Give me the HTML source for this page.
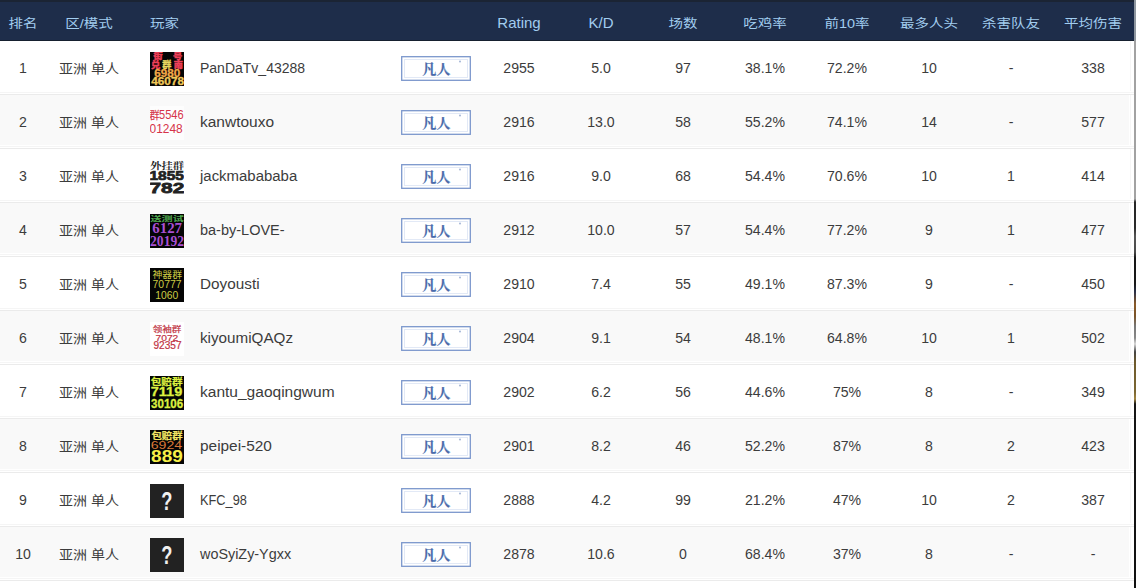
<!DOCTYPE html><html><head><meta charset="utf-8"><title>Ranking</title><style>*{margin:0;padding:0;box-sizing:border-box}
html,body{width:1136px;height:588px;overflow:hidden;background:#fff}
body{font-family:"Liberation Sans","Noto Sans CJK SC",sans-serif;font-size:14px;color:#3c3c3c}
#wrap{position:relative;width:1136px;height:588px}
.hd{position:absolute;left:0;top:0;width:1134px;height:41px;background:#1e2d4a;border-top:2px solid #1b2434;border-bottom:1px solid #16202f}
.h{position:absolute;top:1px;line-height:41px;color:#a2cdf0;font-size:14.5px;white-space:nowrap;transform:translateY(0.8px) scaleY(0.83)}
.h.lat{font-size:15px;top:0;transform:none}
.h.c1{left:0;width:46px;text-align:center}
.h.c2{left:44px;width:90px;text-align:center}
.h.c3{left:150px}
.h.n{width:82px;text-align:center}
.row{position:absolute;left:0;width:1134px;height:54px;border-bottom:1px solid #ebebeb}
.row.odd{background:#fff}
.row.even{background:linear-gradient(to right,#f9f9f9 1129px,#fff 1129px)}
.row::after{content:'';position:absolute;left:0;width:1134px;top:50px;height:3px;background:linear-gradient(#fff 0,#fff 1px,#f5f5f5 1px,#f5f5f5 2px,#fff 2px)}
.row::before{content:'';position:absolute;left:1130px;width:1px;top:0;height:53px;background:#f6f6f6}
.t{position:absolute;top:1px;line-height:53px;white-space:nowrap}
.t.c1{left:0;width:46px;text-align:center;font-size:15px;transform:scaleX(0.94);top:0}
.t.c2{left:44px;width:90px;text-align:center;transform:scaleY(0.92)}
.t.nm{left:200px;transform-origin:0 0}
.t.n{width:82px;text-align:center;font-size:15px;transform:scaleX(0.94);top:0}
.av{position:absolute;left:150px;top:11px;width:34px;height:34px;display:block}
.badge{position:absolute;left:401px;top:15px;width:70px;height:25px;display:block}
.strip{position:absolute;left:1134px;top:0;width:2px;height:588px;background:linear-gradient(#8e969f 0,#8e969f 40px,#a2a2a2 41px,#a2a2a2 199px,#262626 202px,#2a2a2a 228px,#555 236px,#4a4a4a 252px,#161616 258px,#181818 284px,#2a3048 292px,#8a5a28 304px,#7a5428 316px,#777 326px,#888 338px,#d8d8d8 344px,#444 352px,#6e5a2c 362px,#7a6632 392px,#a08440 399px,#151515 404px,#111 588px)}
</style></head><body><div id="wrap">
<div class="hd"><span class="h c1">排名</span><span class="h c2">区/模式</span><span class="h c3">玩家</span>
<span class="h n lat" style="left:478px">Rating</span>
<span class="h n lat" style="left:560px">K/D</span>
<span class="h n" style="left:642px">场数</span>
<span class="h n" style="left:724px">吃鸡率</span>
<span class="h n" style="left:806px">前10率</span>
<span class="h n" style="left:888px">最多人头</span>
<span class="h n" style="left:970px">杀害队友</span>
<span class="h n" style="left:1052px">平均伤害</span>
</div>
<div class="row odd" style="top:41px">
<span class="t c1">1</span><span class="t c2">亚洲 单人</span>
<svg class="av" width="34" height="34" viewBox="0 0 34 34"><rect width="34" height="34" fill="#050505"/><text x="3.46" y="7.18" font-size="7.98" fill="#f0405a" font-weight="bold" font-family="&quot;Liberation Sans&quot;,&quot;Noto Sans CJK SC&quot;,sans-serif" textLength="9.01" lengthAdjust="spacingAndGlyphs" stroke="#f0405a" stroke-width="0.45">街</text><text x="23.09" y="7.15" font-size="8.29" fill="#f0405a" font-weight="bold" font-family="&quot;Liberation Sans&quot;,&quot;Noto Sans CJK SC&quot;,sans-serif" textLength="9.21" lengthAdjust="spacingAndGlyphs" stroke="#f0405a" stroke-width="0.45">号</text><text x="1.04" y="15.94" font-size="9.1" fill="#f0405a" font-weight="bold" font-family="&quot;Liberation Sans&quot;,&quot;Noto Sans CJK SC&quot;,sans-serif" textLength="9.29" lengthAdjust="spacingAndGlyphs" stroke="#f0405a" stroke-width="0.45">兑</text><text x="12.32" y="16.01" font-size="8.72" fill="#e8d860" font-weight="bold" font-family="&quot;Liberation Sans&quot;,&quot;Noto Sans CJK SC&quot;,sans-serif" textLength="9.05" lengthAdjust="spacingAndGlyphs" stroke="#e8d860" stroke-width="0.35">群</text><text x="23.79" y="15.97" font-size="9.2" fill="#f0405a" font-weight="bold" font-family="&quot;Liberation Sans&quot;,&quot;Noto Sans CJK SC&quot;,sans-serif" textLength="9.21" lengthAdjust="spacingAndGlyphs" stroke="#f0405a" stroke-width="0.45">南</text><text x="4.29" y="25.3" font-size="10.14" fill="#f2a848" font-weight="bold" font-family="&quot;Liberation Sans&quot;,sans-serif" textLength="25.87" lengthAdjust="spacingAndGlyphs" stroke="#f2a848" stroke-width="0.3">6980</text><text x="1.32" y="33.1" font-size="10.0" fill="#f0c858" font-weight="bold" font-family="&quot;Liberation Sans&quot;,sans-serif" textLength="32.64" lengthAdjust="spacingAndGlyphs" stroke="#f0c858" stroke-width="0.3">46078</text></svg>
<span class="t nm" style="transform:scaleX(1.0)">PanDaTv_43288</span>
<svg class="badge" width="70" height="25" viewBox="0 0 70 25"><rect x="0.7" y="0.7" width="68.6" height="23.6" fill="#fff" stroke="#7b97cc" stroke-width="1.3"/><rect x="3.5" y="3.5" width="63" height="18" fill="none" stroke="#e2e9f6" stroke-width="1"/><circle cx="59" cy="5.5" r="0.9" fill="#9aaed2"/><text x="21.38" y="18.45" font-size="13.91" fill="#4a6cab" font-weight="bold" font-family="&quot;Liberation Serif&quot;,&quot;Noto Serif CJK SC&quot;,serif" textLength="28.28" lengthAdjust="spacingAndGlyphs" stroke="#4a6cab" stroke-width="0.15">凡人</text></svg>
<span class="t n" style="left:478px">2955</span>
<span class="t n" style="left:560px">5.0</span>
<span class="t n" style="left:642px">97</span>
<span class="t n" style="left:724px">38.1%</span>
<span class="t n" style="left:806px">72.2%</span>
<span class="t n" style="left:888px">10</span>
<span class="t n" style="left:970px">-</span>
<span class="t n" style="left:1052px">338</span>
</div>
<div class="row even" style="top:95px">
<span class="t c1">2</span><span class="t c2">亚洲 单人</span>
<svg class="av" width="34" height="34" viewBox="0 0 34 34"><rect width="34" height="34" fill="#fdfdfd"/><text x="-0.5" y="12.97" font-size="10.33" fill="#d6344a" font-weight="normal" font-family="&quot;Liberation Sans&quot;,&quot;Noto Sans CJK SC&quot;,sans-serif" textLength="10.16" lengthAdjust="spacingAndGlyphs" stroke="#d6344a" stroke-width="0.15">群</text><text x="9.06" y="13.38" font-size="12.25" fill="#d6344a" font-weight="normal" font-family="&quot;Liberation Sans&quot;,sans-serif" textLength="24.64" lengthAdjust="spacingAndGlyphs">5546</text><text x="-0.48" y="26.67" font-size="12.96" fill="#d6344a" font-weight="normal" font-family="&quot;Liberation Sans&quot;,sans-serif" textLength="33.16" lengthAdjust="spacingAndGlyphs">01248</text></svg>
<span class="t nm" style="transform:scaleX(1.106)">kanwtouxo</span>
<svg class="badge" width="70" height="25" viewBox="0 0 70 25"><rect x="0.7" y="0.7" width="68.6" height="23.6" fill="#fff" stroke="#7b97cc" stroke-width="1.3"/><rect x="3.5" y="3.5" width="63" height="18" fill="none" stroke="#e2e9f6" stroke-width="1"/><circle cx="59" cy="5.5" r="0.9" fill="#9aaed2"/><text x="21.38" y="18.45" font-size="13.91" fill="#4a6cab" font-weight="bold" font-family="&quot;Liberation Serif&quot;,&quot;Noto Serif CJK SC&quot;,serif" textLength="28.28" lengthAdjust="spacingAndGlyphs" stroke="#4a6cab" stroke-width="0.15">凡人</text></svg>
<span class="t n" style="left:478px">2916</span>
<span class="t n" style="left:560px">13.0</span>
<span class="t n" style="left:642px">58</span>
<span class="t n" style="left:724px">55.2%</span>
<span class="t n" style="left:806px">74.1%</span>
<span class="t n" style="left:888px">14</span>
<span class="t n" style="left:970px">-</span>
<span class="t n" style="left:1052px">577</span>
</div>
<div class="row odd" style="top:149px">
<span class="t c1">3</span><span class="t c2">亚洲 单人</span>
<svg class="av" width="34" height="34" viewBox="0 0 34 34"><rect width="34" height="34" fill="#fff"/><text x="0.26" y="8.74" font-size="9.1" fill="#2a2a2a" font-weight="bold" font-family="&quot;Liberation Serif&quot;,&quot;Noto Serif CJK SC&quot;,serif" textLength="33.87" lengthAdjust="spacingAndGlyphs">外挂群</text><text x="-0.61" y="20.17" font-size="13.1" fill="#222" font-weight="bold" font-family="&quot;Liberation Sans&quot;,sans-serif" textLength="34.57" lengthAdjust="spacingAndGlyphs" stroke="#222" stroke-width="0.7">1855</text><text x="-0.54" y="32.95" font-size="15.49" fill="#222" font-weight="bold" font-family="&quot;Liberation Sans&quot;,sans-serif" textLength="34.84" lengthAdjust="spacingAndGlyphs" stroke="#222" stroke-width="0.8">782</text></svg>
<span class="t nm" style="transform:scaleX(1.068)">jackmabababa</span>
<svg class="badge" width="70" height="25" viewBox="0 0 70 25"><rect x="0.7" y="0.7" width="68.6" height="23.6" fill="#fff" stroke="#7b97cc" stroke-width="1.3"/><rect x="3.5" y="3.5" width="63" height="18" fill="none" stroke="#e2e9f6" stroke-width="1"/><circle cx="59" cy="5.5" r="0.9" fill="#9aaed2"/><text x="21.38" y="18.45" font-size="13.91" fill="#4a6cab" font-weight="bold" font-family="&quot;Liberation Serif&quot;,&quot;Noto Serif CJK SC&quot;,serif" textLength="28.28" lengthAdjust="spacingAndGlyphs" stroke="#4a6cab" stroke-width="0.15">凡人</text></svg>
<span class="t n" style="left:478px">2916</span>
<span class="t n" style="left:560px">9.0</span>
<span class="t n" style="left:642px">68</span>
<span class="t n" style="left:724px">54.4%</span>
<span class="t n" style="left:806px">70.6%</span>
<span class="t n" style="left:888px">10</span>
<span class="t n" style="left:970px">1</span>
<span class="t n" style="left:1052px">414</span>
</div>
<div class="row even" style="top:203px">
<span class="t c1">4</span><span class="t c2">亚洲 单人</span>
<svg class="av" width="34" height="34" viewBox="0 0 34 34"><rect width="34" height="34" fill="#050505"/><text x="0.54" y="7.08" font-size="7.16" fill="#4fa84f" font-weight="bold" font-family="&quot;Liberation Sans&quot;,&quot;Noto Sans CJK SC&quot;,sans-serif" textLength="33.23" lengthAdjust="spacingAndGlyphs">送测试</text><text x="2.28" y="19.46" font-size="14.48" fill="#a950d2" font-weight="bold" font-family="&quot;Liberation Serif&quot;,serif" textLength="29.79" lengthAdjust="spacingAndGlyphs">6127</text><text x="0.06" y="31.56" font-size="14.22" fill="#a950d2" font-weight="bold" font-family="&quot;Liberation Serif&quot;,serif" textLength="34.06" lengthAdjust="spacingAndGlyphs">20192</text></svg>
<span class="t nm" style="transform:scaleX(1.035)">ba-by-LOVE-</span>
<svg class="badge" width="70" height="25" viewBox="0 0 70 25"><rect x="0.7" y="0.7" width="68.6" height="23.6" fill="#fff" stroke="#7b97cc" stroke-width="1.3"/><rect x="3.5" y="3.5" width="63" height="18" fill="none" stroke="#e2e9f6" stroke-width="1"/><circle cx="59" cy="5.5" r="0.9" fill="#9aaed2"/><text x="21.38" y="18.45" font-size="13.91" fill="#4a6cab" font-weight="bold" font-family="&quot;Liberation Serif&quot;,&quot;Noto Serif CJK SC&quot;,serif" textLength="28.28" lengthAdjust="spacingAndGlyphs" stroke="#4a6cab" stroke-width="0.15">凡人</text></svg>
<span class="t n" style="left:478px">2912</span>
<span class="t n" style="left:560px">10.0</span>
<span class="t n" style="left:642px">57</span>
<span class="t n" style="left:724px">54.4%</span>
<span class="t n" style="left:806px">77.2%</span>
<span class="t n" style="left:888px">9</span>
<span class="t n" style="left:970px">1</span>
<span class="t n" style="left:1052px">477</span>
</div>
<div class="row odd" style="top:257px">
<span class="t c1">5</span><span class="t c2">亚洲 单人</span>
<svg class="av" width="34" height="34" viewBox="0 0 34 34"><rect width="34" height="34" fill="#050505"/><text x="2.45" y="9.55" font-size="9.35" fill="#cccc44" font-weight="normal" font-family="&quot;Liberation Sans&quot;,&quot;Noto Sans CJK SC&quot;,sans-serif" textLength="29.59" lengthAdjust="spacingAndGlyphs">神器群</text><text x="2.58" y="20.49" font-size="10.99" fill="#cccc44" font-weight="normal" font-family="&quot;Liberation Sans&quot;,sans-serif" textLength="28.95" lengthAdjust="spacingAndGlyphs">70777</text><text x="5.23" y="30.89" font-size="10.56" fill="#cccc44" font-weight="normal" font-family="&quot;Liberation Sans&quot;,sans-serif" textLength="22.98" lengthAdjust="spacingAndGlyphs">1060</text></svg>
<span class="t nm" style="transform:scaleX(1.093)">Doyousti</span>
<svg class="badge" width="70" height="25" viewBox="0 0 70 25"><rect x="0.7" y="0.7" width="68.6" height="23.6" fill="#fff" stroke="#7b97cc" stroke-width="1.3"/><rect x="3.5" y="3.5" width="63" height="18" fill="none" stroke="#e2e9f6" stroke-width="1"/><circle cx="59" cy="5.5" r="0.9" fill="#9aaed2"/><text x="21.38" y="18.45" font-size="13.91" fill="#4a6cab" font-weight="bold" font-family="&quot;Liberation Serif&quot;,&quot;Noto Serif CJK SC&quot;,serif" textLength="28.28" lengthAdjust="spacingAndGlyphs" stroke="#4a6cab" stroke-width="0.15">凡人</text></svg>
<span class="t n" style="left:478px">2910</span>
<span class="t n" style="left:560px">7.4</span>
<span class="t n" style="left:642px">55</span>
<span class="t n" style="left:724px">49.1%</span>
<span class="t n" style="left:806px">87.3%</span>
<span class="t n" style="left:888px">9</span>
<span class="t n" style="left:970px">-</span>
<span class="t n" style="left:1052px">450</span>
</div>
<div class="row even" style="top:311px">
<span class="t c1">6</span><span class="t c2">亚洲 单人</span>
<svg class="av" width="34" height="34" viewBox="0 0 34 34"><rect width="34" height="34" fill="#fff"/><text x="2.77" y="9.89" font-size="8.39" fill="#bf3343" font-weight="normal" font-family="&quot;Liberation Sans&quot;,&quot;Noto Sans CJK SC&quot;,sans-serif" textLength="28.57" lengthAdjust="spacingAndGlyphs" stroke="#bf3343" stroke-width="0.2">领袖群</text><text x="5.49" y="18.8" font-size="9.58" fill="#bf3343" font-weight="normal" font-family="&quot;Liberation Sans&quot;,sans-serif" textLength="22.82" lengthAdjust="spacingAndGlyphs" stroke="#bf3343" stroke-width="0.2">7072</text><text x="3.45" y="27.3" font-size="10.0" fill="#bf3343" font-weight="normal" font-family="&quot;Liberation Sans&quot;,sans-serif" textLength="28.07" lengthAdjust="spacingAndGlyphs" stroke="#bf3343" stroke-width="0.2">92357</text></svg>
<span class="t nm" style="transform:scaleX(1.087)">kiyoumiQAQz</span>
<svg class="badge" width="70" height="25" viewBox="0 0 70 25"><rect x="0.7" y="0.7" width="68.6" height="23.6" fill="#fff" stroke="#7b97cc" stroke-width="1.3"/><rect x="3.5" y="3.5" width="63" height="18" fill="none" stroke="#e2e9f6" stroke-width="1"/><circle cx="59" cy="5.5" r="0.9" fill="#9aaed2"/><text x="21.38" y="18.45" font-size="13.91" fill="#4a6cab" font-weight="bold" font-family="&quot;Liberation Serif&quot;,&quot;Noto Serif CJK SC&quot;,serif" textLength="28.28" lengthAdjust="spacingAndGlyphs" stroke="#4a6cab" stroke-width="0.15">凡人</text></svg>
<span class="t n" style="left:478px">2904</span>
<span class="t n" style="left:560px">9.1</span>
<span class="t n" style="left:642px">54</span>
<span class="t n" style="left:724px">48.1%</span>
<span class="t n" style="left:806px">64.8%</span>
<span class="t n" style="left:888px">10</span>
<span class="t n" style="left:970px">1</span>
<span class="t n" style="left:1052px">502</span>
</div>
<div class="row odd" style="top:365px">
<span class="t c1">7</span><span class="t c2">亚洲 单人</span>
<svg class="av" width="34" height="34" viewBox="0 0 34 34"><rect width="34" height="34" fill="#050505"/><text x="0.73" y="8.7" font-size="9.47" fill="#dcf040" font-weight="bold" font-family="&quot;Liberation Sans&quot;,&quot;Noto Sans CJK SC&quot;,sans-serif" textLength="31.99" lengthAdjust="spacingAndGlyphs" stroke="#dcf040" stroke-width="0.2">包赔群</text><text x="0.75" y="20.17" font-size="13.1" fill="#dcf040" font-weight="bold" font-family="&quot;Liberation Sans&quot;,sans-serif" textLength="31.45" lengthAdjust="spacingAndGlyphs" stroke="#dcf040" stroke-width="0.3">7119</text><text x="1.11" y="31.98" font-size="12.11" fill="#dcf040" font-weight="bold" font-family="&quot;Liberation Sans&quot;,sans-serif" textLength="32.1" lengthAdjust="spacingAndGlyphs" stroke="#dcf040" stroke-width="0.3">30106</text></svg>
<span class="t nm" style="transform:scaleX(1.109)">kantu_gaoqingwum</span>
<svg class="badge" width="70" height="25" viewBox="0 0 70 25"><rect x="0.7" y="0.7" width="68.6" height="23.6" fill="#fff" stroke="#7b97cc" stroke-width="1.3"/><rect x="3.5" y="3.5" width="63" height="18" fill="none" stroke="#e2e9f6" stroke-width="1"/><circle cx="59" cy="5.5" r="0.9" fill="#9aaed2"/><text x="21.38" y="18.45" font-size="13.91" fill="#4a6cab" font-weight="bold" font-family="&quot;Liberation Serif&quot;,&quot;Noto Serif CJK SC&quot;,serif" textLength="28.28" lengthAdjust="spacingAndGlyphs" stroke="#4a6cab" stroke-width="0.15">凡人</text></svg>
<span class="t n" style="left:478px">2902</span>
<span class="t n" style="left:560px">6.2</span>
<span class="t n" style="left:642px">56</span>
<span class="t n" style="left:724px">44.6%</span>
<span class="t n" style="left:806px">75%</span>
<span class="t n" style="left:888px">8</span>
<span class="t n" style="left:970px">-</span>
<span class="t n" style="left:1052px">349</span>
</div>
<div class="row even" style="top:419px">
<span class="t c1">8</span><span class="t c2">亚洲 单人</span>
<svg class="av" width="34" height="34" viewBox="0 0 34 34"><rect width="34" height="34" fill="#050505"/><text x="1.44" y="8.74" font-size="9.05" fill="#f0e464" font-weight="bold" font-family="&quot;Liberation Sans&quot;,&quot;Noto Sans CJK SC&quot;,sans-serif" textLength="31.27" lengthAdjust="spacingAndGlyphs" stroke="#f0e464" stroke-width="0.2">包赔群</text><text x="0.69" y="18.79" font-size="10.56" fill="#d87838" font-weight="normal" font-family="&quot;Liberation Sans&quot;,sans-serif" textLength="31.42" lengthAdjust="spacingAndGlyphs">6924</text><text x="1.13" y="31.54" font-size="16.06" fill="#f8f048" font-weight="bold" font-family="&quot;Liberation Sans&quot;,sans-serif" textLength="31.7" lengthAdjust="spacingAndGlyphs">889</text></svg>
<span class="t nm" style="transform:scaleX(1.1)">peipei-520</span>
<svg class="badge" width="70" height="25" viewBox="0 0 70 25"><rect x="0.7" y="0.7" width="68.6" height="23.6" fill="#fff" stroke="#7b97cc" stroke-width="1.3"/><rect x="3.5" y="3.5" width="63" height="18" fill="none" stroke="#e2e9f6" stroke-width="1"/><circle cx="59" cy="5.5" r="0.9" fill="#9aaed2"/><text x="21.38" y="18.45" font-size="13.91" fill="#4a6cab" font-weight="bold" font-family="&quot;Liberation Serif&quot;,&quot;Noto Serif CJK SC&quot;,serif" textLength="28.28" lengthAdjust="spacingAndGlyphs" stroke="#4a6cab" stroke-width="0.15">凡人</text></svg>
<span class="t n" style="left:478px">2901</span>
<span class="t n" style="left:560px">8.2</span>
<span class="t n" style="left:642px">46</span>
<span class="t n" style="left:724px">52.2%</span>
<span class="t n" style="left:806px">87%</span>
<span class="t n" style="left:888px">8</span>
<span class="t n" style="left:970px">2</span>
<span class="t n" style="left:1052px">423</span>
</div>
<div class="row odd" style="top:473px">
<span class="t c1">9</span><span class="t c2">亚洲 单人</span>
<svg class="av" width="34" height="34" viewBox="0 0 34 34"><rect width="34" height="34" fill="#222"/><text x="11.28" y="26.4" font-size="26.14" fill="#f0f0f0" font-weight="bold" font-family="&quot;Liberation Sans&quot;,sans-serif" textLength="11.14" lengthAdjust="spacingAndGlyphs">?</text></svg>
<span class="t nm" style="transform:scaleX(0.912)">KFC_98</span>
<svg class="badge" width="70" height="25" viewBox="0 0 70 25"><rect x="0.7" y="0.7" width="68.6" height="23.6" fill="#fff" stroke="#7b97cc" stroke-width="1.3"/><rect x="3.5" y="3.5" width="63" height="18" fill="none" stroke="#e2e9f6" stroke-width="1"/><circle cx="59" cy="5.5" r="0.9" fill="#9aaed2"/><text x="21.38" y="18.45" font-size="13.91" fill="#4a6cab" font-weight="bold" font-family="&quot;Liberation Serif&quot;,&quot;Noto Serif CJK SC&quot;,serif" textLength="28.28" lengthAdjust="spacingAndGlyphs" stroke="#4a6cab" stroke-width="0.15">凡人</text></svg>
<span class="t n" style="left:478px">2888</span>
<span class="t n" style="left:560px">4.2</span>
<span class="t n" style="left:642px">99</span>
<span class="t n" style="left:724px">21.2%</span>
<span class="t n" style="left:806px">47%</span>
<span class="t n" style="left:888px">10</span>
<span class="t n" style="left:970px">2</span>
<span class="t n" style="left:1052px">387</span>
</div>
<div class="row even" style="top:527px">
<span class="t c1">10</span><span class="t c2">亚洲 单人</span>
<svg class="av" width="34" height="34" viewBox="0 0 34 34"><rect width="34" height="34" fill="#222"/><text x="11.28" y="26.4" font-size="26.14" fill="#f0f0f0" font-weight="bold" font-family="&quot;Liberation Sans&quot;,sans-serif" textLength="11.14" lengthAdjust="spacingAndGlyphs">?</text></svg>
<span class="t nm" style="transform:scaleX(1.027)">woSyiZy-Ygxx</span>
<svg class="badge" width="70" height="25" viewBox="0 0 70 25"><rect x="0.7" y="0.7" width="68.6" height="23.6" fill="#fff" stroke="#7b97cc" stroke-width="1.3"/><rect x="3.5" y="3.5" width="63" height="18" fill="none" stroke="#e2e9f6" stroke-width="1"/><circle cx="59" cy="5.5" r="0.9" fill="#9aaed2"/><text x="21.38" y="18.45" font-size="13.91" fill="#4a6cab" font-weight="bold" font-family="&quot;Liberation Serif&quot;,&quot;Noto Serif CJK SC&quot;,serif" textLength="28.28" lengthAdjust="spacingAndGlyphs" stroke="#4a6cab" stroke-width="0.15">凡人</text></svg>
<span class="t n" style="left:478px">2878</span>
<span class="t n" style="left:560px">10.6</span>
<span class="t n" style="left:642px">0</span>
<span class="t n" style="left:724px">68.4%</span>
<span class="t n" style="left:806px">37%</span>
<span class="t n" style="left:888px">8</span>
<span class="t n" style="left:970px">-</span>
<span class="t n" style="left:1052px">-</span>
</div>
<div class="strip"></div></div></body></html>
